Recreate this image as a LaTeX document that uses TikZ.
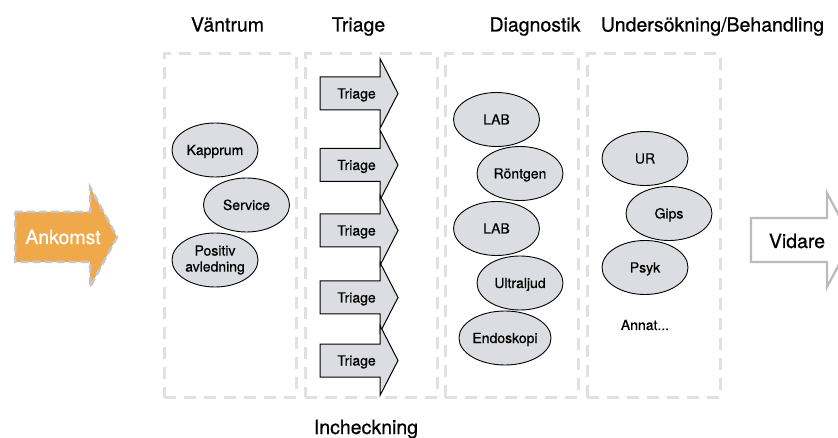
\documentclass[tikz,border=0pt]{standalone}
\usepackage{fontspec}
\setmainfont{TeX Gyre Heros}[FakeBold=0.6]
\usetikzlibrary{shapes.geometric}

\definecolor{laneline}{HTML}{E0E1E5}
\definecolor{stationfill}{HTML}{DCDDE2}
\definecolor{ankomstfill}{HTML}{F0A94A}
\definecolor{ankomstedge}{HTML}{C6C6C8}
\definecolor{vidareedge}{HTML}{BBBBBB}

\begin{document}
\begin{tikzpicture}[x=1pt, y=-1pt,
  lane/.style={rectangle, draw=laneline, line width=3pt, dash pattern=on 12pt off 8pt,
    minimum height=343pt, inner sep=0pt, outer sep=0pt},
  station/.style={ellipse, draw=black, line width=0.9pt, fill=stationfill,
    minimum width=86pt, minimum height=54pt, inner sep=0pt,
    font=\fontsize{14}{16}\selectfont, text height=10pt, text depth=0pt},
  smalltext/.style={font=\fontsize{14}{16}\selectfont, inner sep=0pt, anchor=base},
  bigtext/.style={font=\fontsize{19.5}{22}\selectfont, inner sep=0pt, anchor=base},
  triagearrow/.style={draw=black, line width=1pt, fill=stationfill, line join=miter},
]
\clip (0,0) rectangle (838,438);
\fill[white] (0,0) rectangle (838,438);

% column frames
\node[lane, minimum width=132pt] (lane1) at (230,225.5) {};
\node[lane, minimum width=132pt] (lane2) at (371,225.5) {};
\node[lane, minimum width=133pt] (lane3) at (511.5,225.5) {};
\node[lane, minimum width=133pt] (lane4) at (653.5,225.5) {};

% column headings
\node[bigtext] (h1) at (227.5,31.5) {Väntrum};
\node[bigtext] (h2) at (358.5,31.5) {Triage};
\node[bigtext] (h3) at (535,31.5) {Diagnostik};
\node[bigtext] (h4) at (712.5,31.5) {Undersökning/Behandling};
\node[bigtext] (incheck) at (366,434) {Incheckning};

% arrival arrow
\draw[fill=ankomstfill, draw=ankomstedge, line width=2.5pt, dash pattern=on 8pt off 4pt]
  (15,212) -- (90,212) -- (90,187) -- (117,237) -- (90,287) -- (90,262) -- (15,262) -- cycle;
\node[bigtext, text=white] (ankomst) at (63,244) {Ankomst};

% exit arrow
\draw[fill=white, draw=vidareedge, line width=2.2pt, line join=miter]
  (751,218) -- (827,218) -- (827,193) -- (852,240) -- (827,287) -- (827,262) -- (751,262) -- cycle;
\node[bigtext] (vidare) at (797,248) {Vidare};

% triage arrows
\foreach \i/\cy in {1/93.5, 2/165, 3/230.5, 4/297.5, 5/360.5} {
  \draw[triagearrow] (320,\cy-16.5) -- (380,\cy-16.5) -- (380,\cy-35) -- (398,\cy)
    -- (380,\cy+35) -- (380,\cy+16.5) -- (320,\cy+16.5) -- cycle;
  \node[smalltext] (triage\i) at (356.5,\cy+5) {Triage};
}

% waiting room
\node[station] (kapprum) at (215,150) {Kapprum};
\node[station] (service) at (246.5,205) {Service};
\node[station, text height=, text depth=, align=center] (positiv) at (215,260) {Positiv\\avledning};

% diagnostics
\node[station] (lab1) at (496.5,119.5) {LAB};
\node[station] (rontgen) at (520,173.5) {Röntgen};
\node[station] (lab2) at (496.5,228.5) {LAB};
\node[station] (ultraljud) at (520,283) {Ultraljud};
\node[station] (endoskopi) at (505,338) {Endoskopi};

% examination / treatment
\node[station] (ur) at (645,158.5) {UR};
\node[station] (gips) at (669,213.5) {Gips};
\node[station] (psyk) at (645,267.5) {Psyk};
\node[smalltext] (annat) at (645,330) {Annat...};
\end{tikzpicture}
\end{document}
